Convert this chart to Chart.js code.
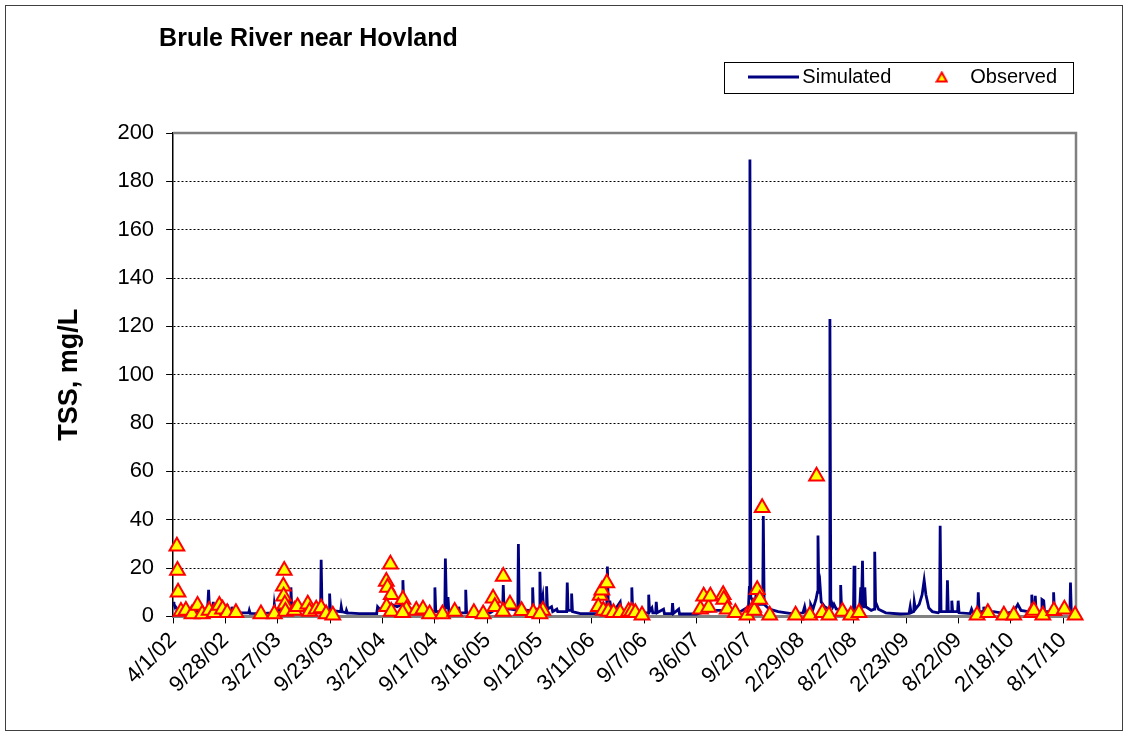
<!DOCTYPE html>
<html>
<head>
<meta charset="utf-8">
<title>Brule River near Hovland</title>
<script src="https://cdn.jsdelivr.net/npm/chart.js@4/dist/chart.umd.min.js"></script>
<style>
    html, body { margin: 0; padding: 0; background: #ffffff; }
    canvas { display: block; }
</style>
</head>
<body>
<canvas id="tssChart" width="1128" height="736"></canvas>
<script>

// ====== DATA ==================
// days counted from 4/1/02, one x tick every 180 days
const chartTitle = 'Brule River near Hovland';
const tickStep = 180;
const lastDay = 3104;
const tickLabels = ['4/1/02', '9/28/02', '3/27/03', '9/23/03', '3/21/04', '9/17/04', '3/16/05', '9/12/05', '3/11/06',
    '9/7/06', '3/6/07', '9/2/07', '2/29/08', '8/27/08', '2/23/09', '8/22/09', '2/18/10', '8/17/10'];
const yTicks = [0, 20, 40, 60, 80, 100, 120, 140, 160, 180, 200];

// simulated TSS (mg/L)
const simDays = [
    0, 3, 8, 15, 25, 40, 60, 80, 100, 118, 122, 125, 136, 138, 141, 160, 184, 186, 189, 200, 202, 205,
    225, 260, 262, 265, 300, 340, 346, 348, 351, 370, 380, 400, 403, 405, 408, 430, 470, 507, 509, 512, 536, 538, 541, 576, 578, 581, 594, 596, 599,
    640, 700, 703, 710, 730, 750, 770, 788, 790, 793, 820, 860, 898, 900, 903, 934, 936, 940, 945, 948, 980, 982, 985, 1004, 1006, 1009,
    1050, 1090, 1110, 1133, 1135, 1138, 1160, 1185, 1187, 1190, 1220, 1234, 1236, 1239, 1259, 1261, 1264, 1271, 1274, 1282, 1284, 1287, 1301, 1305, 1319, 1322, 1339, 1353, 1355, 1358, 1368, 1370, 1373,
    1400, 1460, 1480, 1491, 1493, 1496, 1502, 1506, 1520, 1537, 1540, 1560, 1575, 1577, 1580, 1610, 1633, 1635, 1638, 1646, 1649, 1659, 1661, 1664, 1686, 1689, 1715, 1717, 1720, 1738, 1741,
    1800, 1830, 1870, 1900, 1950, 1978, 1981, 1983, 1986, 2000, 2008, 2012, 2027, 2029, 2032, 2050, 2080, 2120, 2165, 2171, 2175, 2190, 2192, 2200, 2210, 2215, 2217, 2220, 2224, 2228, 2240, 2255, 2258, 2261, 2268, 2272, 2280, 2293, 2295, 2298,
    2320, 2339, 2341, 2344, 2360, 2364, 2366, 2370, 2372, 2376, 2378, 2381, 2400, 2410, 2412, 2415, 2425, 2450, 2500, 2530, 2534, 2537, 2546, 2548, 2552, 2565, 2575, 2582, 2588, 2598, 2610, 2630, 2635, 2637, 2640, 2660, 2662, 2665, 2675, 2677, 2680, 2697, 2699, 2702,
    2740, 2745, 2750, 2766, 2768, 2771, 2785, 2787, 2790, 2821, 2860, 2890, 2904, 2915, 2940, 2950, 2952, 2955, 2962, 2964, 2967, 2985, 2987, 2993, 2996, 3025, 3027, 3030, 3060, 3083, 3085, 3088, 3104
];
const simValues = [
    6, 5, 4, 3, 2.5, 2, 2, 2.5, 2, 2, 11, 3, 2, 6, 2.5, 2, 2, 5, 2, 2, 4, 2,
    1.5, 1.5, 2.5, 1.3, 1.2, 1.5, 2, 5, 2.5, 2.5, 4, 4, 6, 12, 3, 2.5, 2, 2, 23.4, 3, 2, 9.5, 2.5, 2, 4, 2, 1.5, 2.5, 1.5,
    1.2, 1.2, 4, 3, 4, 5, 4, 5, 15, 5, 3, 2, 2, 12, 2, 2, 24, 3, 8, 2, 2, 4, 1.5, 1.5, 11, 1.5,
    1.2, 1.5, 3, 3, 13, 3, 3, 2.5, 30, 3, 2.5, 2.5, 12, 3, 3, 18.5, 4, 8.5, 3, 3, 12.5, 3, 4, 2, 3, 2, 2, 2, 14, 2.5, 2.5, 9.5, 2,
    1.2, 1.2, 3, 5, 20.6, 6, 6, 3, 3, 6, 2.5, 2, 2, 12, 2, 1.5, 1.5, 9, 2, 3.5, 1.5, 1.5, 6, 1.5, 3, 1.2, 1.2, 5.5, 1.2, 3, 1,
    1, 2, 2.5, 2.5, 2, 4, 12, 189, 8, 5, 13, 5, 5, 41.5, 5, 3, 2, 1.3, 1.5, 4, 1.5, 2.5, 5, 3, 7, 10, 33.5, 10, 13, 6, 4, 3, 123, 7, 4, 5, 3, 3, 13, 3,
    2, 2, 21, 3, 3, 12, 3, 23, 8, 4, 12, 4, 2.5, 3, 26.8, 6, 3, 1.5, 1, 1.2, 4, 1.5, 2, 6, 3, 5, 9, 15, 9, 3.5, 2, 1.5, 2, 37.5, 2, 2, 15, 2, 2, 6.5, 2, 2, 6.5, 1.5,
    1.2, 3, 1.5, 1.5, 10, 2, 2, 4, 1.5, 2, 1.2, 2, 5, 2.5, 2, 2, 9, 2, 2, 8.5, 2, 2, 7, 6.5, 2, 2, 10, 2, 1.5, 1.5, 14, 1.5, 1.5
];

// observed TSS samples (mg/L)
const obsDays = [
    13, 15, 17, 27, 44, 65, 84, 100, 124, 141, 159, 170, 186, 216, 302, 348, 382, 379, 380, 384,
    386, 417, 428, 463, 469, 492, 509, 526, 549, 747, 733, 737, 750, 734, 750, 790, 802, 789, 836, 859,
    882, 926, 968, 1034, 1066, 1100, 1106, 1135, 1158, 1134, 1198, 1238, 1271, 1261, 1468, 1474, 1491, 1462, 1479, 1496,
    1514, 1537, 1566, 1577, 1589, 1612, 1813, 1824, 1841, 1847, 1891, 1893, 1905, 1933, 1973, 1996, 1998, 2008, 2017, 2025,
    2051, 2140, 2189, 2212, 2232, 2255, 2301, 2330, 2358, 2764, 2801, 2856, 2890, 2952, 2959, 2990, 3028, 3064, 3101
];
const obsValues = [
    29, 19, 10, 2, 2.5, 1, 4.5, 1, 2.5, 1.5, 4.5, 3, 1.5, 1.5, 1, 1, 19, 12.5, 8.3, 5,
    2, 2.5, 4, 5, 2, 3, 3.5, 1, 0.5, 21.6, 14.5, 12, 9, 4, 2, 7, 3, 1.5, 2.5, 3,
    1, 1, 2, 1.5, 1, 7.5, 4, 16.5, 5, 2, 2.3, 1.5, 2.5, 1, 8.7, 10.8, 13.8, 4, 2.5, 2,
    1.5, 1.5, 2, 2, 1.5, 0.5, 3, 8.3, 3.7, 8.3, 9, 7, 3, 1.5, 0.5, 3.7, 2.5, 11, 7, 45,
    0.5, 0.5, 0.5, 58, 1.5, 0.5, 2, 0.5, 1.5, 0.5, 1.5, 0.5, 0.5, 1.5, 2.5, 0.5, 2.3, 3, 0.5
];
// ==============================

const FONT = '"Liberation Sans", Arial, Helvetica, sans-serif';
Chart.defaults.font.family = FONT;
Chart.defaults.color = '#000000';

// small legend icons (a plain line and a yellow/red triangle)
function makeLineIcon() {
    const c = document.createElement('canvas');
    c.width = 51;
    c.height = 4;
    const g = c.getContext('2d');
    g.fillStyle = '#000080';
    g.fillRect(0, 0.5, 51, 3);
    return c;
}

function makeTriangleIcon() {
    const c = document.createElement('canvas');
    c.width = 13;
    c.height = 12;
    const g = c.getContext('2d');
    g.beginPath();
    g.moveTo(6.5, 1.5);
    g.lineTo(11.5, 10.5);
    g.lineTo(1.5, 10.5);
    g.closePath();
    g.fillStyle = '#ffff00';
    g.fill();
    g.strokeStyle = '#ff0000';
    g.lineWidth = 2;
    g.stroke();
    return c;
}

const lineIcon = makeLineIcon();
const triangleIcon = makeTriangleIcon();

// white page, outer frame, grey plot frame, title and the box round the legend
const excelFrame = {
    id: 'excelFrame',
    afterInit(chart) {
        // leave some room between legend and plot
        const fitLegend = chart.legend.fit;
        chart.legend.fit = function () {
            fitLegend.call(this);
            this.height += 36;
        };
    },
    afterLayout(chart) {
        // nudge the legend to the right, like the excel one
        chart.legend.left += 13;
        chart.legend.right += 13;
    },
    beforeDraw(chart) {
        const ctx = chart.ctx;
        ctx.save();
        ctx.fillStyle = '#ffffff';
        ctx.fillRect(0, 0, chart.width, chart.height);
        ctx.strokeStyle = '#404040';
        ctx.lineWidth = 1;
        ctx.strokeRect(5.5, 5.5, chart.width - 11, chart.height - 11);
        ctx.restore();
    },
    beforeDatasetsDraw(chart) {
        const {ctx, chartArea} = chart;
        ctx.save();
        ctx.strokeStyle = '#808080';
        ctx.lineWidth = 2.5;
        ctx.beginPath();
        ctx.moveTo(chartArea.left, chartArea.top);
        ctx.lineTo(chartArea.right, chartArea.top);
        ctx.lineTo(chartArea.right, chartArea.bottom);
        ctx.stroke();
        ctx.restore();
    },
    afterDraw(chart) {
        const {ctx, chartArea} = chart;
        ctx.save();
        ctx.fillStyle = '#000000';
        ctx.font = 'bold 25px ' + FONT;
        ctx.textAlign = 'left';
        ctx.textBaseline = 'alphabetic';
        ctx.fillText(chartTitle, chartArea.left - 14, 46);

        const boxes = chart.legend.legendHitBoxes;
        if (boxes && boxes.length) {
            const first = boxes[0];
            const last = boxes[boxes.length - 1];
            const left = first.left - 31;
            const right = last.left + last.width + 16;
            ctx.strokeStyle = '#000000';
            ctx.lineWidth = 1;
            ctx.strokeRect(Math.round(left) + 0.5, Math.round(first.top - 5) + 0.5,
                Math.round(right - left), Math.round(first.height + 11));
        }
        ctx.restore();
    }
};

function initTssChart() {
    const ctx = document.getElementById('tssChart');

    const simulated = simDays.map((d, i) => ({x: d, y: simValues[i]}));
    const observed = obsDays.map((d, i) => ({x: d, y: obsValues[i]}));

    new Chart(ctx, {
        type: 'scatter',
        data: {
            datasets: [
                {
                    label: 'Simulated',
                    data: simulated,
                    showLine: true,
                    borderColor: '#000080',
                    borderWidth: 2.8,
                    tension: 0,
                    pointRadius: 0,
                    pointHoverRadius: 0,
                    order: 1
                },
                {
                    label: 'Observed',
                    data: observed,
                    showLine: false,
                    pointStyle: 'triangle',
                    pointRadius: 8.5,
                    pointBackgroundColor: '#ffff00',
                    pointBorderColor: '#ff0000',
                    pointBorderWidth: 2,
                    backgroundColor: '#ffff00',
                    borderColor: '#ff0000',
                    clip: false,
                    order: 0
                }
            ]
        },
        options: {
            responsive: false,
            animation: false,
            layout: {
                padding: {left: 40, right: 52, top: 35, bottom: 34}
            },
            scales: {
                x: {
                    type: 'linear',
                    min: 0,
                    max: lastDay,
                    afterBuildTicks: function (scale) {
                        scale.ticks = tickLabels.map((t, i) => ({value: i * tickStep}));
                    },
                    ticks: {
                        autoSkip: false,
                        minRotation: 45,
                        maxRotation: 45,
                        padding: 4,
                        color: '#000000',
                        font: {size: 22},
                        callback: function (value) {
                            return tickLabels[Math.round(value / tickStep)];
                        }
                    },
                    grid: {
                        drawOnChartArea: false,
                        drawTicks: true,
                        tickLength: 7,
                        tickColor: '#000000'
                    },
                    border: {
                        color: '#808080',
                        width: 3
                    }
                },
                y: {
                    min: 0,
                    max: 200,
                    afterBuildTicks: function (scale) {
                        scale.ticks = yTicks.map(v => ({value: v}));
                    },
                    ticks: {
                        padding: 12,
                        color: '#000000',
                        font: {size: 22}
                    },
                    grid: {
                        color: c => (c.tick && c.tick.value === 0) ? 'rgba(0,0,0,0)' : '#000000',
                        lineWidth: 1,
                        drawTicks: true,
                        tickLength: 7,
                        tickColor: '#000000'
                    },
                    border: {
                        color: '#000000',
                        width: 1.5,
                        dash: [2, 2]
                    },
                    title: {
                        display: true,
                        text: 'TSS, mg/L',
                        color: '#000000',
                        font: {size: 27, weight: 'bold'},
                        padding: {top: 13, bottom: 20}
                    }
                }
            },
            plugins: {
                legend: {
                    position: 'top',
                    align: 'end',
                    labels: {
                        usePointStyle: true,
                        pointStyleWidth: 37,
                        boxHeight: 8,
                        padding: 32,
                        color: '#000000',
                        font: {size: 20},
                        sort: (a, b) => a.datasetIndex - b.datasetIndex,
                        generateLabels: function (chart) {
                            const items = Chart.defaults.plugins.legend.labels.generateLabels(chart);
                            items.forEach(item => {
                                item.pointStyle = item.datasetIndex === 0 ? lineIcon : triangleIcon;
                            });
                            return items;
                        }
                    }
                },
                tooltip: {
                    enabled: false
                }
            }
        },
        plugins: [excelFrame]
    });
}

initTssChart();

</script>
</body>
</html>
